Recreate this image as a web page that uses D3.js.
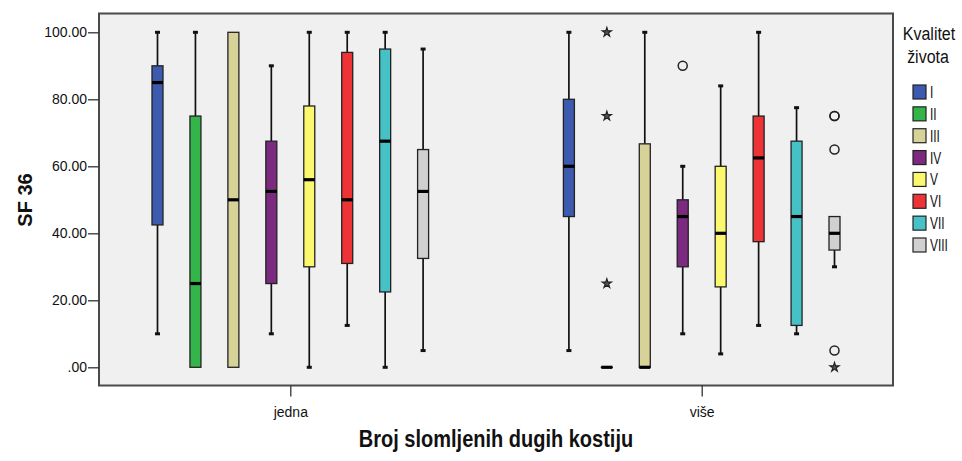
<!DOCTYPE html>
<html>
<head>
<meta charset="utf-8">
<script src="https://cdn.jsdelivr.net/npm/d3@7"></script>
<style>
  html, body { margin: 0; padding: 0; background: #ffffff; }
  svg { display: block; }
  text { font-family: "Liberation Sans", Arial, sans-serif; fill: #111; }
</style>
</head>
<body>
<div id="chart"></div>
<script>
// ---- data ----
const groups = ["jedna", "više"];
const levels = ["I", "II", "III", "IV", "V", "VI", "VII", "VIII"];
const colors = ["#3c5aae", "#33b54a", "#d7d398", "#7c2a80", "#fbf86f", "#ee3337", "#46c2c6", "#d0d0d0"];

const jednaMin    = [10,   0,   0,  10,  0, 12.5,  0,    5];
const jednaQ1     = [42.5, 0,   0,  25, 30, 31,   22.5, 32.5];
const jednaMedian = [85,  25,  50, 52.5, 56, 50,  67.5, 52.5];
const jednaQ3     = [90,  75, 100, 67.5, 78, 94,  95,   65];
const jednaMax    = [100, 100, 100, 90, 100, 100, 100,  95];

const viseMin     = [5,  0,  0,    10,  4, 12.5, 10,   30];
const viseQ1      = [45, 0,  0,    30, 24, 37.5, 12.5, 35];
const viseMedian  = [60, 0,  0,    45, 40, 62.5, 45,   40];
const viseQ3      = [80, 0,  66.7, 50, 60, 75,   67.5, 45];
const viseMax     = [100, 0, 100,  60, 84, 100,  77.5, 45];

// outliers (više group)
const circleLevels = ["IV", "VIII", "VIII", "VIII", "VIII"];
const circleValues = [90, 75, 75, 65, 5];
const starLevels   = ["II", "II", "II", "VIII"];
const starValues   = [100, 75, 25, 0];

const yTicks = [0, 20, 40, 60, 80, 100];

// ---- build ----
const W = 962, H = 461;
const plot = { left: 99, right: 893, top: 13.5, bottom: 385.5 };

const svg = d3.select("#chart").append("svg").attr("width", W).attr("height", H);

const x0 = d3.scalePoint().domain(groups).range([plot.left, plot.right]).padding(0.465);
const x1 = d3.scalePoint().domain(levels).range([-132.8, 132.8]);
const y = d3.scaleLinear().domain([0, 100]).range([367.3, 32.3]);
const color = d3.scaleOrdinal().domain(levels).range(colors);

svg.append("rect")
  .attr("x", plot.left).attr("y", plot.top)
  .attr("width", plot.right - plot.left).attr("height", plot.bottom - plot.top)
  .attr("fill", "#f0f0f0").attr("stroke", "#4a4a4a").attr("stroke-width", 2);

// axes
const yAxis = svg.append("g").attr("transform", `translate(${plot.left},0)`)
  .call(d3.axisLeft(y).tickValues(yTicks).tickSize(11).tickPadding(1)
    .tickFormat(d => d === 0 ? ".00" : d.toFixed(2)));
yAxis.select(".domain").remove();
yAxis.selectAll(".tick line").attr("stroke", "#333").attr("stroke-width", 1.3);
yAxis.selectAll(".tick text").style("font-size", "14px").attr("fill", "#111")
  .style("font-family", '"Liberation Sans", Arial, sans-serif');

const xAxis = svg.append("g").attr("transform", `translate(0,${plot.bottom})`)
  .call(d3.axisBottom(x0).tickSize(11).tickPadding(11));
xAxis.select(".domain").remove();
xAxis.selectAll(".tick line").attr("stroke", "#333").attr("stroke-width", 1.3);
xAxis.selectAll(".tick text").style("font-size", "14px").attr("fill", "#111")
  .style("font-family", '"Liberation Sans", Arial, sans-serif');

// axis titles
svg.append("text")
  .attr("transform", "translate(32,200) rotate(-90)")
  .attr("text-anchor", "middle")
  .style("font-size", "20px").style("font-weight", "bold")
  .text("SF 36");

svg.append("text")
  .attr("transform", "translate(496,447) scale(1,1.15)")
  .attr("text-anchor", "middle")
  .style("font-size", "20px").style("font-weight", "bold")
  .text("Broj slomljenih dugih kostiju");

// boxes
const stats = [
  { g: "jedna", min: jednaMin, q1: jednaQ1, med: jednaMedian, q3: jednaQ3, max: jednaMax },
  { g: "više", min: viseMin, q1: viseQ1, med: viseMedian, q3: viseQ3, max: viseMax }
];
const boxes = [];
stats.forEach(s => levels.forEach((lv, i) => boxes.push({
  g: s.g, lv, min: s.min[i], q1: s.q1[i], med: s.med[i], q3: s.q3[i], max: s.max[i]
})));

const bw = 11;
const bg = svg.selectAll("g.box").data(boxes).enter().append("g")
  .attr("class", "box")
  .attr("transform", d => `translate(${x0(d.g) + x1(d.lv)},0)`);

// whiskers
bg.filter(d => d.max > d.q3).append("line")
  .attr("x1", 0).attr("x2", 0).attr("y1", d => y(d.max)).attr("y2", d => y(d.q3))
  .attr("stroke", "#111").attr("stroke-width", 1.7);
bg.filter(d => d.min < d.q1).append("line")
  .attr("x1", 0).attr("x2", 0).attr("y1", d => y(d.q1)).attr("y2", d => y(d.min))
  .attr("stroke", "#111").attr("stroke-width", 1.7);
bg.filter(d => d.max > d.q3).append("rect")
  .attr("x", -2.5).attr("width", 5).attr("y", d => y(d.max) - 1.5).attr("height", 3)
  .attr("fill", "#111");
bg.filter(d => d.min < d.q1).append("rect")
  .attr("x", -2.5).attr("width", 5).attr("y", d => y(d.min) - 1.5).attr("height", 3)
  .attr("fill", "#111");

// box
bg.append("rect")
  .attr("x", -bw / 2).attr("width", bw)
  .attr("y", d => y(d.q3)).attr("height", d => Math.max(0.01, y(d.q1) - y(d.q3)))
  .attr("fill", d => color(d.lv))
  .attr("stroke", "#222").attr("stroke-width", 1.3);
// median
bg.append("line")
  .attr("x1", -bw / 2).attr("x2", bw / 2)
  .attr("y1", d => y(d.med)).attr("y2", d => y(d.med))
  .attr("stroke", "#000").attr("stroke-width", 3.2);

// outliers
const circ = circleLevels.map((lv, i) => ({ lv, v: circleValues[i] }));
svg.selectAll("circle.out").data(circ).enter().append("circle")
  .attr("class", "out")
  .attr("cx", d => x0("više") + x1(d.lv)).attr("cy", d => y(d.v))
  .attr("r", 4.5).attr("fill", "none").attr("stroke", "#222").attr("stroke-width", 1.5);

const stars = starLevels.map((lv, i) => ({ lv, v: starValues[i] }));
const star = d3.symbol().type(d3.symbolStar).size(26);
svg.selectAll("path.star").data(stars).enter().append("path")
  .attr("class", "star")
  .attr("transform", d => `translate(${x0("više") + x1(d.lv)},${y(d.v)})`)
  .attr("d", star).attr("fill", "#555").attr("stroke", "#222").attr("stroke-width", 1.2);

// legend
const lg = svg.append("g");
lg.append("text").attr("transform", "translate(929,40) scale(1,1.1)").attr("text-anchor", "middle")
  .style("font-size", "16px").text("Kvalitet");
lg.append("text").attr("transform", "translate(928,63) scale(1,1.1)").attr("text-anchor", "middle")
  .style("font-size", "16px").text("života");
const ly = d3.scalePoint().domain(levels).range([92, 245]);
const li = lg.selectAll("g.li").data(levels).enter().append("g")
  .attr("transform", d => `translate(913,${ly(d)})`);
li.append("rect").attr("x", 0).attr("y", -7).attr("width", 13).attr("height", 14)
  .attr("fill", d => color(d)).attr("stroke", "#222").attr("stroke-width", 1.2);
li.append("text").attr("transform", "translate(17,6) scale(0.85,1.15)")
  .style("font-size", "14px").text(d => d);
</script>
</body>
</html>
